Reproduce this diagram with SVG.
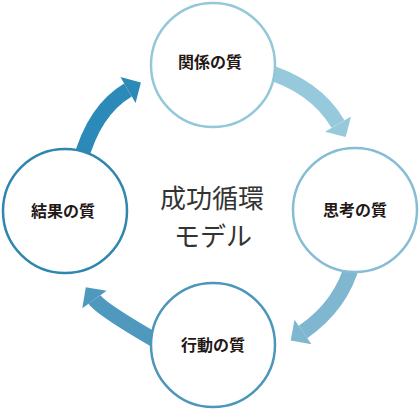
<svg xmlns="http://www.w3.org/2000/svg" width="420" height="411" viewBox="0 0 420 411">
  <style>
    .node { fill: #ffffff; stroke-width: 2.5; }
    .label { font-family: "Noto Sans CJK JP", "Noto Sans", sans-serif; font-size: 16px; font-weight: 700; fill: #231815; text-anchor: middle; }
    .title { font-family: "Noto Sans CJK JP", "Noto Sans", sans-serif; font-size: 26px; font-weight: 400; fill: #333333; text-anchor: middle; }
    .shaft { fill: none; stroke-width: 15; stroke-linecap: butt; }
  </style>
  <rect width="420" height="411" fill="#ffffff"/>
  <g id="connectors">
    <g id="arrow-relation-thinking">
      <path class="shaft" d="M262 70 Q315 85 338 124" stroke="#96c9db"/>
      <polygon points="351,116.4 325.1,131.7 345.7,136.9" fill="#96c9db"/>
    </g>
    <g id="arrow-thinking-action">
      <path class="shaft" d="M353 262 Q342 305 303 332" stroke="#7fb7d1"/>
      <polygon points="311.5,344.3 294.5,319.7 290.7,340.5" fill="#7fb7d1"/>
    </g>
    <g id="arrow-action-result">
      <path class="shaft" d="M165 346 Q102 310 94.5 299.5" stroke="#4f99be"/>
      <polygon points="106.7,290.8 82.3,308.2 85.8,287.3" fill="#4f99be"/>
    </g>
    <g id="arrow-result-relation">
      <path class="shaft" d="M80 162 Q94 110 128 90" stroke="#2b8ab7"/>
      <polygon points="135.6,102.9 120.4,77.1 140.9,82.4" fill="#2b8ab7"/>
    </g>
  </g>
  <g id="node-relation">
    <circle class="node" cx="213" cy="65" r="62" stroke="#93c8d9"/>
    <text class="label" x="210" y="68">関係の質</text>
  </g>
  <g id="node-thinking">
    <circle class="node" cx="355" cy="210" r="62" stroke="#86bcd4"/>
    <text class="label" x="355" y="216">思考の質</text>
  </g>
  <g id="node-action">
    <circle class="node" cx="213" cy="345" r="62" stroke="#4c96ba"/>
    <text class="label" x="213" y="351">行動の質</text>
  </g>
  <g id="node-result">
    <circle class="node" cx="65" cy="211" r="62" stroke="#2f86ae"/>
    <text class="label" x="63" y="217">結果の質</text>
  </g>
  <g id="title">
    <text class="title" x="212" y="208">成功循環</text>
    <text class="title" x="213" y="246">モデル</text>
  </g>
</svg>
